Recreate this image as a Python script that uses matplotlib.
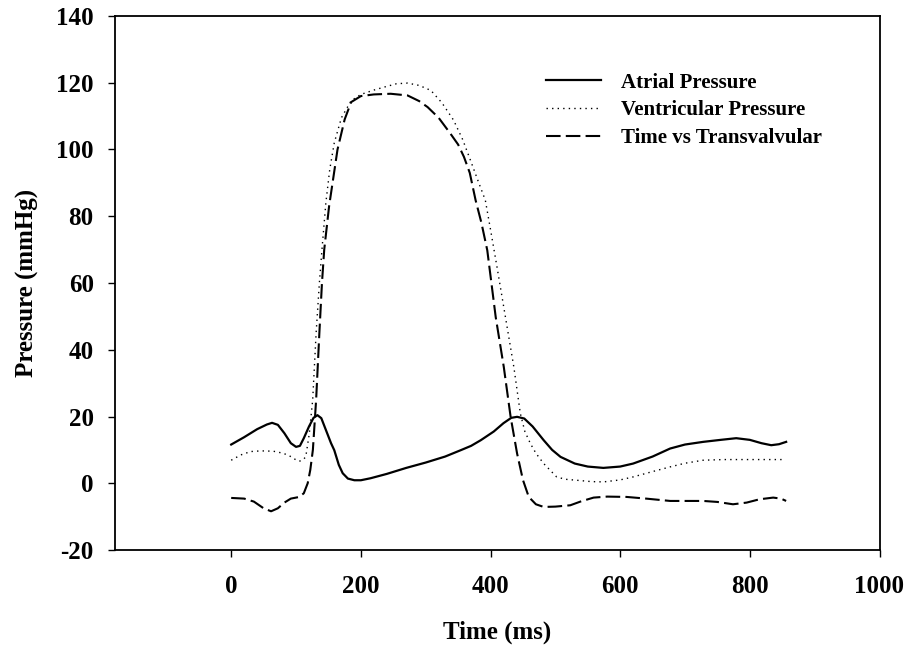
import matplotlib
matplotlib.use("Agg")
import matplotlib.pyplot as plt

# ---- data ----
atrial_t = [0, 20, 40, 55, 63, 72, 82, 92, 100, 106, 112, 120, 127, 133, 139, 146, 154, 159, 166,
            172, 180, 190, 200, 215, 240, 270, 300, 330, 354, 370, 385, 405, 420, 432, 441, 452, 465,
            482, 495, 508, 530, 550, 574, 600, 620, 650, 677, 700, 728, 755, 779, 800, 818, 833, 845, 856]
atrial_p = [11.6, 13.8, 16.2, 17.6, 18.1, 17.5, 15.0, 12.0, 10.9, 11.2, 13.5, 17.0, 19.6, 20.4, 19.5,
            16.0, 12.0, 9.9, 5.5, 3.0, 1.4, 0.9, 0.9, 1.5, 2.8, 4.6, 6.2, 8.0, 9.9, 11.2, 12.9, 15.5,
            18.0, 19.6, 19.9, 19.4, 17.0, 12.9, 10.0, 7.9, 5.9, 5.0, 4.6, 5.0, 5.9, 8.0, 10.4, 11.6,
            12.4, 13.0, 13.5, 13.0, 12.0, 11.4, 11.7, 12.4]

vent_t = [0, 15, 30, 46, 65, 80, 90, 100, 105, 110, 115, 120.5, 125.7, 131, 136, 140, 146, 152,
          159, 170, 185, 200, 220, 236, 255, 272, 290, 308, 325, 343, 357, 369, 380, 392, 400, 410,
          423, 436, 446, 453, 461.5, 470, 482, 502, 515, 533, 555, 574, 600, 620, 650, 677,
          700, 728, 760, 800, 849]
vent_p = [6.9, 8.5, 9.5, 9.7, 9.6, 9.0, 8.2, 7.0, 6.6, 6.9, 7.9, 14.9, 25.0, 45.0, 60.0, 70.0,
          84.0, 94.0, 102.0, 109.5, 114.6, 116.5, 117.8, 118.7, 119.7, 119.9, 119.2, 117.7,
          114.0, 108.8, 103.0, 96.8, 91.0, 84.8, 76.0, 64.8, 49.8, 34.8, 20.9, 15.5, 11.9, 9.0,
          5.9, 1.9, 1.2, 0.9, 0.5, 0.4, 1.0, 1.9, 3.5, 4.9, 6.0, 6.9, 7.1, 7.1, 7.1]

trans_t = [0, 20, 35, 50, 61.5, 72, 82, 92, 100, 105, 112, 118, 122, 126, 131, 136, 140, 143.5, 151,
           164, 175, 185, 200, 220, 246, 272, 290, 303, 320, 338, 350, 359, 368, 377, 386, 395,
           408, 420.5, 431, 441, 450, 459, 470, 482, 500, 523, 540, 559, 580,
           610, 640, 677, 700, 728, 750, 774, 795, 815, 836, 848, 856]
trans_p = [-4.4, -4.6, -5.5, -7.5, -8.4, -7.5, -5.8, -4.6, -4.3, -4.1, -3.0, 0.0, 4.0, 10.0, 25.0,
           45.0, 60.0, 70.0, 83.0, 100.0, 109.0, 114.2, 116.0, 116.5, 116.7, 116.2, 114.5, 112.7,
           109.5, 104.8, 101.5, 97.8, 93.0, 84.8, 78.0, 69.8, 49.8, 34.8, 19.9, 8.9, 1.0, -4.1,
           -6.3, -7.1, -7.0, -6.6, -5.4, -4.3, -4.0, -4.1, -4.6, -5.3, -5.3,
           -5.3, -5.6, -6.3, -5.8, -4.8, -4.3, -4.6, -5.3]

series_labels = ["Atrial Pressure", "Ventricular Pressure", "Time vs Transvalvular"]
x_ticks = [0, 200, 400, 600, 800, 1000]
y_ticks = [-20, 0, 20, 40, 60, 80, 100, 120, 140]

# ---- plot ----
plt.rcParams['font.family'] = ['Liberation Serif', 'DejaVu Serif']
plt.rcParams['font.weight'] = 'bold'
plt.rcParams['axes.unicode_minus'] = False

fig = plt.figure(figsize=(9.07, 6.45), dpi=100)
ax = fig.add_axes([114.5 / 907, 1 - 550 / 645, (879.5 - 114.5) / 907, (550 - 16) / 645])

ax.plot(atrial_t, atrial_p, color='black', lw=1.6, label=series_labels[0])
ax.plot(vent_t, vent_p, color='black', lw=1.0, linestyle=(0, (1, 3)), label=series_labels[1])
ax.plot(trans_t, trans_p, color='black', lw=1.5, linestyle=(0, (7, 2.5)), label=series_labels[2])

ax.set_xlim(-180, 1000)
ax.set_ylim(-20, 140)
ax.set_xticks(x_ticks)
ax.set_yticks(y_ticks)
ax.tick_params(axis='both', direction='out', length=5, width=1.0, labelsize=18)
ax.tick_params(axis='y', pad=10)
ax.tick_params(axis='x', pad=13)
for lbl in ax.get_xticklabels() + ax.get_yticklabels():
    lbl.set_fontweight('bold')
for s in ax.spines.values():
    s.set_linewidth(1.3)

ax.set_xlabel("Time (ms)", fontsize=18, fontweight='bold', labelpad=16.5)
ax.set_ylabel("Pressure (mmHg)", fontsize=18, fontweight='bold', labelpad=12)

leg = ax.legend(loc='upper left', bbox_to_anchor=(546 / 907, 1 - 72.5 / 645),
                bbox_transform=fig.transFigure, frameon=False, borderpad=0, borderaxespad=0,
                prop={'size': 15, 'weight': 'bold'}, handlelength=2.64, handletextpad=0.95,
                labelspacing=0.38)

fig.savefig("out.png", dpi=100)
